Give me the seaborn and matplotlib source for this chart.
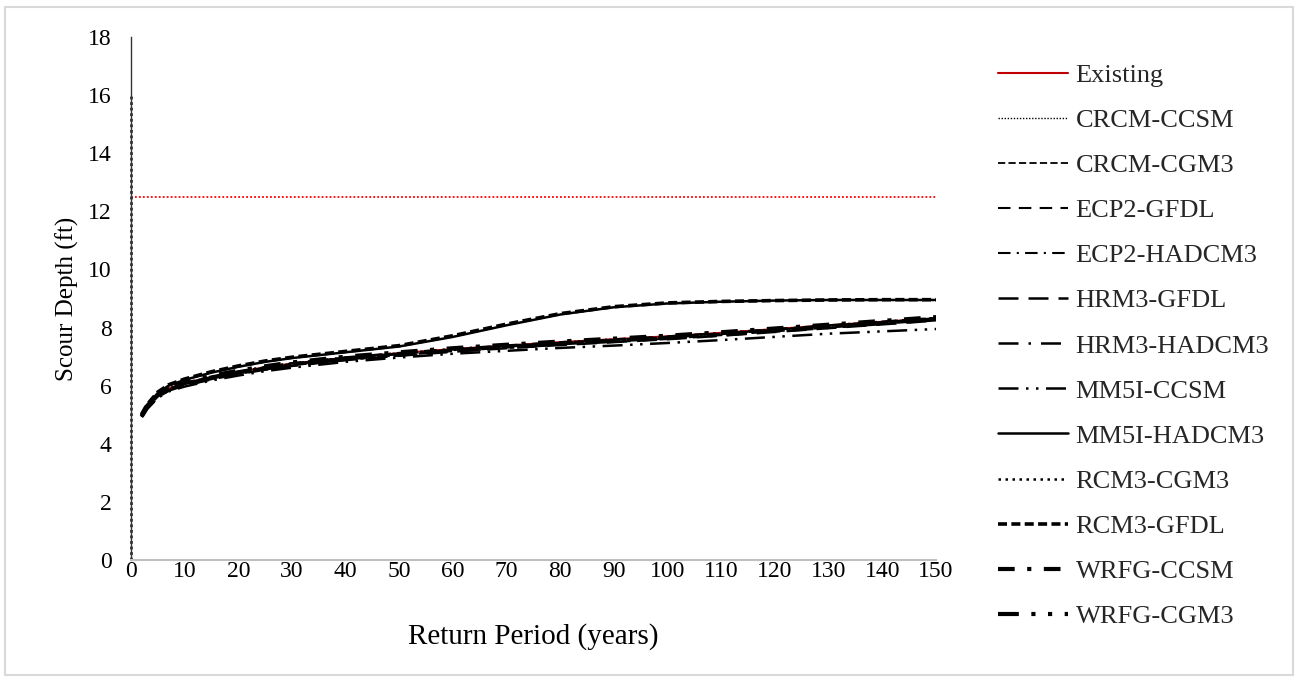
import matplotlib
matplotlib.use("Agg")
import matplotlib.pyplot as plt
import seaborn as sns
import pandas as pd
from matplotlib.patches import Rectangle

# ---------------- data ----------------
return_period = [2, 3, 5, 7, 10, 15, 20, 25, 30, 40, 50, 60, 70, 80, 90, 100, 110, 120, 130, 140, 150]

existing     = [4.97, 5.27, 5.67, 5.90, 6.08, 6.30, 6.48, 6.63, 6.76, 6.96, 7.12, 7.26, 7.38, 7.50, 7.60, 7.70, 7.82, 7.95, 8.08, 8.20, 8.32]
crcm_ccsm    = [4.95, 5.25, 5.64, 5.87, 6.05, 6.27, 6.45, 6.60, 6.73, 6.93, 7.08, 7.22, 7.34, 7.45, 7.55, 7.65, 7.77, 7.90, 8.04, 8.17, 8.30]
crcm_cgm3    = [4.96, 5.26, 5.66, 5.89, 6.07, 6.29, 6.47, 6.62, 6.75, 6.95, 7.10, 7.24, 7.36, 7.47, 7.57, 7.67, 7.79, 7.92, 8.06, 8.19, 8.32]
ecp2_gfdl    = [4.94, 5.23, 5.62, 5.85, 6.02, 6.24, 6.42, 6.57, 6.70, 6.90, 7.05, 7.19, 7.31, 7.42, 7.52, 7.62, 7.74, 7.87, 8.00, 8.13, 8.26]
ecp2_hadcm3  = [4.97, 5.28, 5.68, 5.92, 6.10, 6.32, 6.50, 6.65, 6.78, 6.98, 7.13, 7.27, 7.39, 7.50, 7.60, 7.70, 7.82, 7.95, 8.08, 8.21, 8.34]
hrm3_gfdl    = [4.93, 5.22, 5.60, 5.83, 6.00, 6.22, 6.40, 6.55, 6.68, 6.88, 7.03, 7.17, 7.29, 7.40, 7.50, 7.60, 7.72, 7.85, 7.98, 8.11, 8.24]
hrm3_hadcm3  = [4.95, 5.25, 5.65, 5.88, 6.06, 6.28, 6.46, 6.61, 6.74, 6.94, 7.09, 7.23, 7.35, 7.46, 7.56, 7.66, 7.78, 7.91, 8.05, 8.18, 8.31]
mm5i_ccsm    = [4.92, 5.20, 5.58, 5.80, 5.97, 6.18, 6.35, 6.50, 6.62, 6.82, 6.97, 7.10, 7.20, 7.30, 7.38, 7.47, 7.57, 7.68, 7.79, 7.87, 7.95]
mm5i_hadcm3  = [5.00, 5.32, 5.75, 6.00, 6.20, 6.45, 6.65, 6.82, 6.95, 7.15, 7.35, 7.68, 8.08, 8.45, 8.70, 8.83, 8.89, 8.93, 8.95, 8.95, 8.95]
rcm3_cgm3    = [4.96, 5.27, 5.67, 5.90, 6.08, 6.30, 6.48, 6.63, 6.76, 6.96, 7.11, 7.25, 7.37, 7.48, 7.58, 7.68, 7.80, 7.93, 8.07, 8.20, 8.33]
rcm3_gfdl    = [5.02, 5.35, 5.78, 6.03, 6.23, 6.48, 6.68, 6.85, 6.98, 7.18, 7.38, 7.72, 8.12, 8.48, 8.72, 8.85, 8.90, 8.93, 8.95, 8.96, 8.96]
wrfg_ccsm    = [4.98, 5.30, 5.70, 5.94, 6.12, 6.34, 6.52, 6.67, 6.80, 7.00, 7.15, 7.29, 7.41, 7.52, 7.62, 7.72, 7.84, 7.97, 8.10, 8.23, 8.36]
wrfg_cgm3    = [4.94, 5.24, 5.63, 5.86, 6.04, 6.26, 6.44, 6.59, 6.72, 6.92, 7.07, 7.21, 7.33, 7.44, 7.54, 7.64, 7.76, 7.89, 8.02, 8.15, 8.28]

series_names = ["Existing", "CRCM-CCSM", "CRCM-CGM3", "ECP2-GFDL", "ECP2-HADCM3",
                "HRM3-GFDL", "HRM3-HADCM3", "MM5I-CCSM", "MM5I-HADCM3",
                "RCM3-CGM3", "RCM3-GFDL", "WRFG-CCSM", "WRFG-CGM3"]
series_values = [existing, crcm_ccsm, crcm_cgm3, ecp2_gfdl, ecp2_hadcm3,
                 hrm3_gfdl, hrm3_hadcm3, mm5i_ccsm, mm5i_hadcm3,
                 rcm3_cgm3, rcm3_gfdl, wrfg_ccsm, wrfg_cgm3]

threshold_depth = 12.5          # red dotted horizontal line
vertical_line_x = [0, 0]        # dotted vertical line at x=0
vertical_line_y = [0, 16]

x_ticks = list(range(0, 151, 10))
y_ticks = list(range(0, 19, 2))

# ---------------- styles ----------------
styles = {
    "Existing":    dict(color="#C00000", lw=1.5, ls="-"),
    "CRCM-CCSM":   dict(color="black", lw=1.0, ls=(0, (1, 1.2))),
    "CRCM-CGM3":   dict(color="black", lw=1.3, ls=(0, (4, 1.8))),
    "ECP2-GFDL":   dict(color="black", lw=1.5, ls=(0, (6, 4))),
    "ECP2-HADCM3": dict(color="black", lw=1.5, ls=(0, (6, 3, 1, 3))),
    "HRM3-GFDL":   dict(color="black", lw=1.8, ls=(0, (8, 4))),
    "HRM3-HADCM3": dict(color="black", lw=1.8, ls=(0, (8, 4, 1, 4))),
    "MM5I-CCSM":   dict(color="black", lw=1.8, ls=(0, (8, 3, 1, 3, 1, 3))),
    "MM5I-HADCM3": dict(color="black", lw=1.8, ls="-"),
    "RCM3-CGM3":   dict(color="black", lw=1.8, ls=(0, (1, 1.8))),
    "RCM3-GFDL":   dict(color="black", lw=2.6, ls=(0, (2.5, 1.2))),
    "WRFG-CCSM":   dict(color="black", lw=3.0, ls=(0, (4, 3, 1, 3))),
    "WRFG-CGM3":   dict(color="black", lw=3.0, ls=(0, (5, 3, 1, 3, 1, 3))),
}

sns.set_theme(style="white")
plt.rcParams["font.family"] = ["Liberation Serif", "DejaVu Serif"]

fig = plt.figure(figsize=(12.99, 6.77), dpi=100)
ax = fig.add_axes([0.1008, 0.1728, 0.6198, 0.7725])

for name, vals in zip(series_names, series_values):
    st = styles[name]
    df = pd.DataFrame({"Return Period": return_period, "Depth": vals})
    sns.lineplot(data=df, x="Return Period", y="Depth", ax=ax, label=name,
                 color=st["color"], linewidth=st["lw"], linestyle=st["ls"])

ax.axhline(threshold_depth, xmin=0, xmax=1, color="#FF0000", lw=1.3, ls=(0, (1, 1.2)))
ax.plot(vertical_line_x, vertical_line_y, color="#333333", lw=2.0, ls=(0, (1, 1)), clip_on=False)

ax.set_xlim(0, 150)
ax.set_ylim(0, 18)
ax.set_xticks(x_ticks)
ax.set_yticks(y_ticks)
ax.tick_params(axis="both", labelsize=17, length=0, colors="black")
ax.tick_params(axis="x", pad=1)
ax.tick_params(axis="y", pad=14)
ax.set_xlabel("Return Period (years)", fontsize=21, color="black", labelpad=29)
ax.set_ylabel("Scour Depth (ft)", fontsize=18, color="black", labelpad=6)

for s in ["top", "right"]:
    ax.spines[s].set_visible(False)
ax.spines["left"].set_color("#333333")
ax.spines["left"].set_linewidth(1.0)
ax.spines["bottom"].set_color("#BFBFBF")
ax.spines["bottom"].set_linewidth(1.5)
ax.grid(False)

leg = ax.legend(loc="upper left", bbox_to_anchor=(0.760, 0.922),
                bbox_transform=fig.transFigure, frameon=False, fontsize=19,
                handlelength=2.65, handletextpad=0.3, labelspacing=0.82,
                borderaxespad=0)

fig.add_artist(Rectangle((0.004, 0.003), 0.991, 0.986, transform=fig.transFigure,
                         fill=False, edgecolor="#D9D9D9", lw=1.5))

fig.savefig("out.png", dpi=100)
